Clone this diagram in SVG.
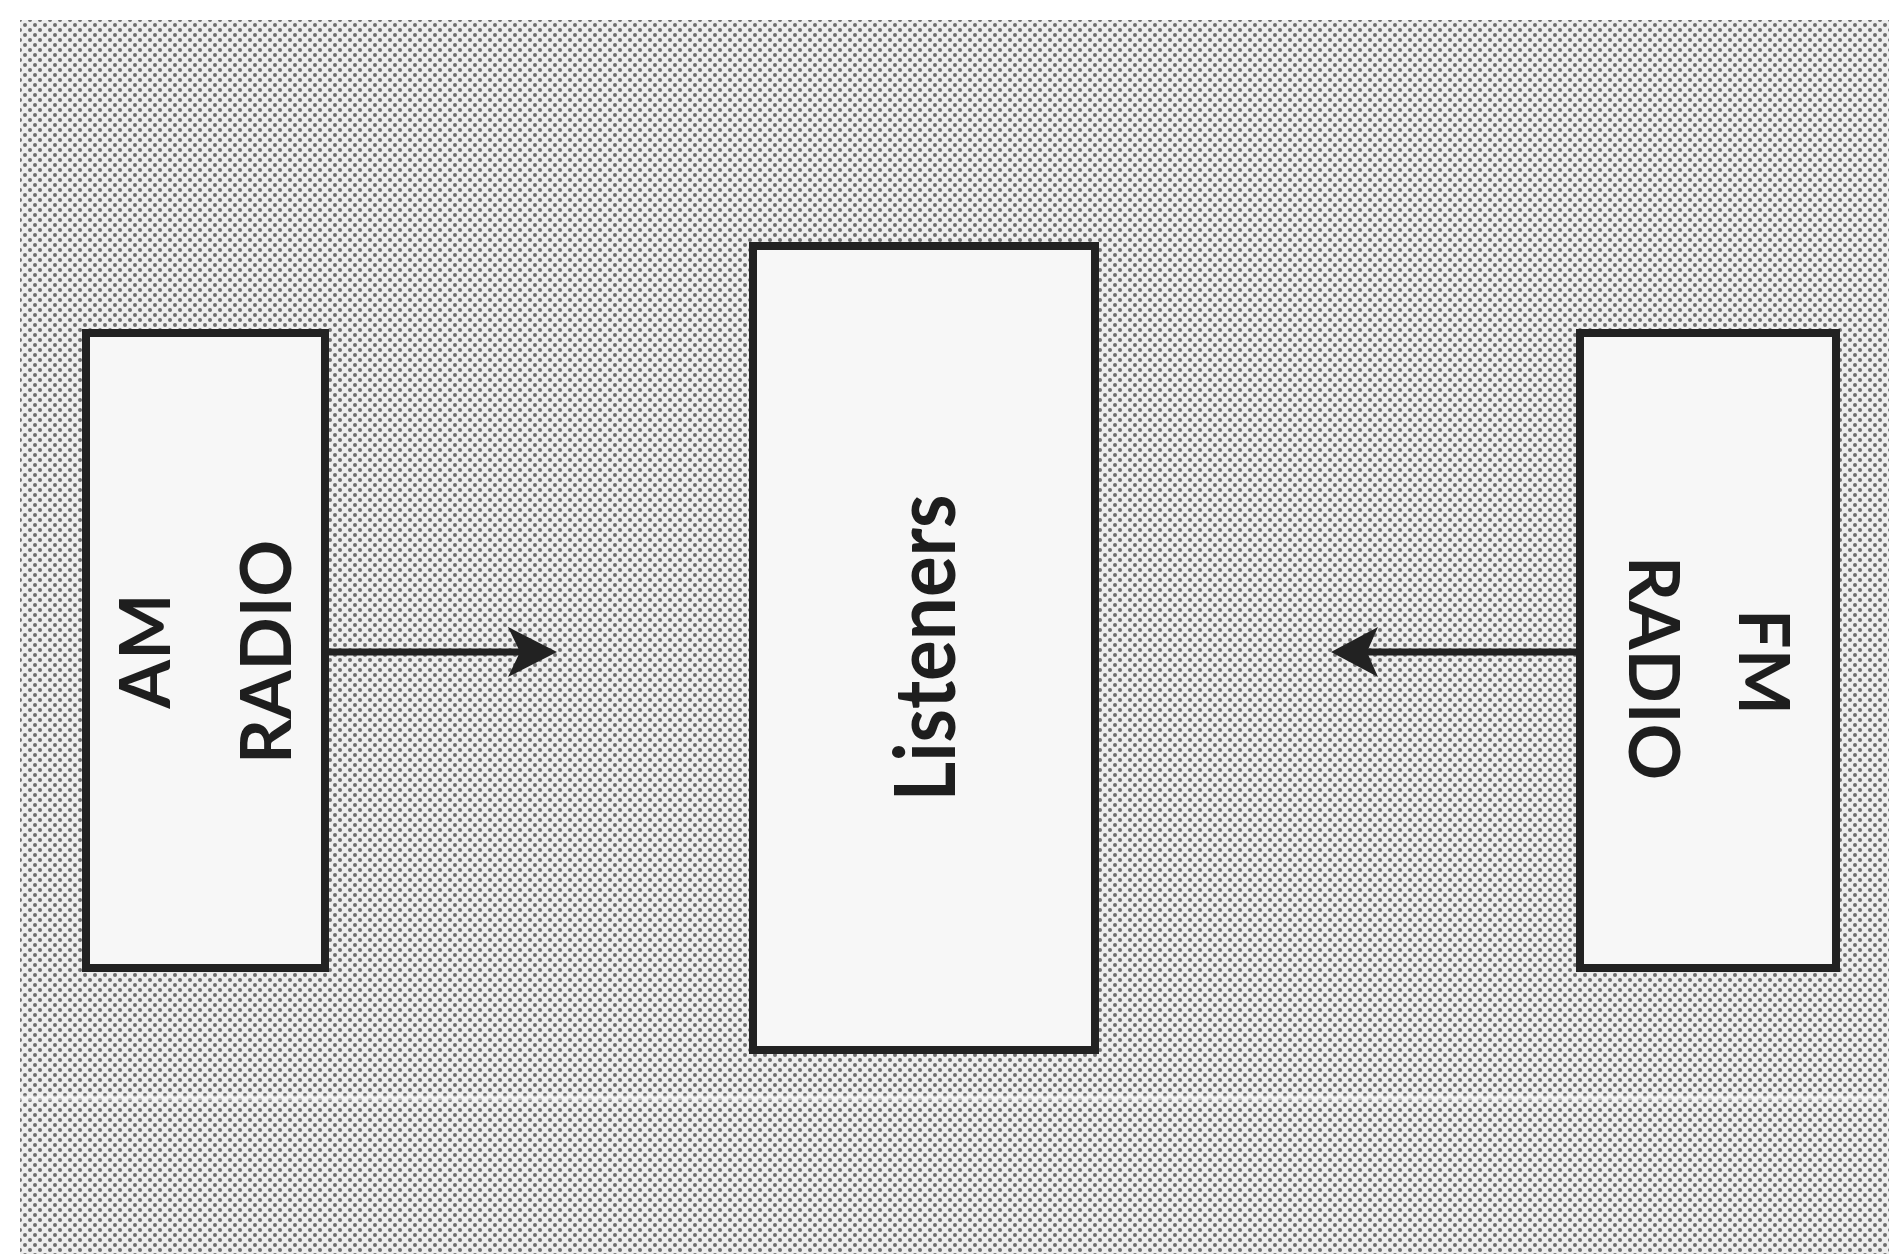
<svg xmlns="http://www.w3.org/2000/svg" width="1889" height="1254" viewBox="0 0 1889 1254">
<defs>
<pattern id="dots" width="10" height="10" patternUnits="userSpaceOnUse">
<rect width="10" height="10" fill="#eeeeee"/>
<circle cx="0" cy="0" r="2" fill="#6e6e6e"/>
<circle cx="10" cy="0" r="2" fill="#6e6e6e"/>
<circle cx="0" cy="10" r="2" fill="#6e6e6e"/>
<circle cx="10" cy="10" r="2" fill="#6e6e6e"/>
<circle cx="5" cy="5" r="2" fill="#6e6e6e"/>
</pattern>
</defs>
<style>
.box{fill:#f7f7f7;stroke:#222;stroke-width:8}
.lbl{font-family:"Lato","DejaVu Sans",sans-serif;font-weight:bold;fill:#1e1e1e;text-anchor:middle}
.conn{stroke:#222;stroke-width:7;fill:none}
.head{fill:#222}
</style>
<rect width="1889" height="1254" fill="#ffffff"/>
<rect x="20" y="20" width="1869" height="1234" fill="url(#dots)"/>
<line x1="0" y1="1098" x2="1889" y2="1098" stroke="#ffffff" stroke-width="5" opacity="0.45"/>
<g id="am-radio">
<rect class="box" x="86" y="333" width="239" height="635"/>
<text class="lbl" font-size="70" transform="translate(170,651) rotate(-90)">AM</text>
<text class="lbl" font-size="70" transform="translate(291,652) rotate(-90)">RADIO</text>
</g>
<g id="listeners">
<rect class="box" x="753" y="246" width="342" height="804"/>
<text class="lbl" font-size="84" textLength="307" lengthAdjust="spacingAndGlyphs" transform="translate(955,648) rotate(-90)">Listeners</text>
</g>
<g id="fm-radio">
<rect class="box" x="1580" y="333" width="256" height="635"/>
<text class="lbl" font-size="70" transform="translate(1739,662) rotate(90)">FM</text>
<text class="lbl" font-size="70" transform="translate(1629,668) rotate(90)">RADIO</text>
</g>
<g id="connectors">
<line class="conn" x1="325" y1="652" x2="535" y2="652"/>
<polygon class="head" points="557,652 508,627 520,652 508,677"/>
<line class="conn" x1="1580" y1="652" x2="1352" y2="652"/>
<polygon class="head" points="1331,652 1378,627 1367,652 1378,677"/>
</g>
</svg>
